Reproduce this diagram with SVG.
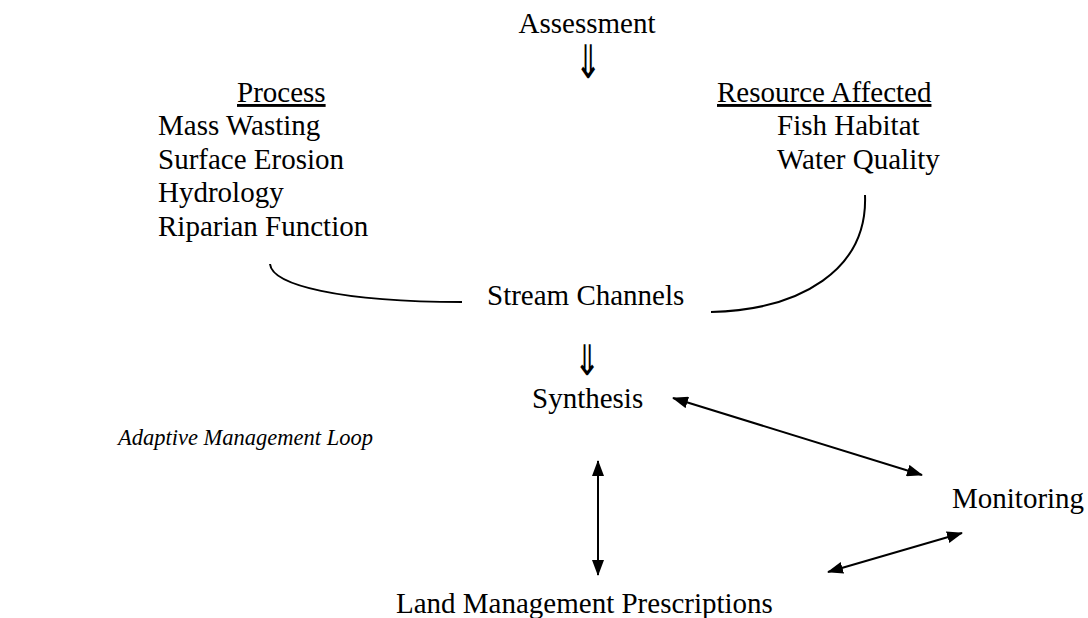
<svg xmlns="http://www.w3.org/2000/svg" width="1088" height="618" viewBox="0 0 1088 618">
<defs>
<style>
text{font-family:"Liberation Serif","Times New Roman",serif;font-size:29px;fill:#000}
.arr{font-family:"DejaVu Sans",sans-serif}
.it{font-style:italic;font-size:22.5px}
.u{text-decoration:underline}
.c{fill:none;stroke:#000;stroke-width:2}
.l{stroke:#000;stroke-width:2;fill:none}
</style>
<marker id="ah" viewBox="0 0 16 12" refX="15" refY="6" markerWidth="16" markerHeight="12" orient="auto-start-reverse" markerUnits="userSpaceOnUse"><path d="M0,0 L16,6 L0,12 z" fill="#000"/></marker>
</defs>
<rect width="1088" height="618" fill="#fff"/>
<g id="assessment"><text x="587" y="33" text-anchor="middle">Assessment</text><text class="arr" transform="translate(588,78) scale(1.1,1.6)" x="0" y="0" text-anchor="middle" font-size="30">⇓</text></g>
<g id="process"><text class="u" x="237" y="102">Process</text><text x="158" y="135">Mass Wasting</text><text x="158" y="169">Surface Erosion</text><text x="158" y="202">Hydrology</text><text x="158" y="236">Riparian Function</text></g>
<g id="resource"><text class="u" x="717" y="102">Resource Affected</text><text x="777" y="135">Fish Habitat</text><text x="777" y="169">Water Quality</text></g>
<g id="stream"><text x="487" y="305">Stream Channels</text><text class="arr" transform="translate(587,375) scale(1.1,1.45)" x="0" y="0" text-anchor="middle" font-size="24">⇓</text></g>
<g id="synthesis"><text x="532" y="408">Synthesis</text></g>
<g id="loop"><text class="it" x="118" y="445">Adaptive Management Loop</text></g>
<g id="monitoring"><text x="952" y="508">Monitoring</text></g>
<g id="prescriptions"><text x="396" y="613">Land Management Prescriptions</text></g>
<g id="connectors">
<path class="c" d="M270,264 C272,285 340,302 462,302"/>
<path class="c" d="M711,312 C800,310 868,270 865,195"/>
<line class="l" x1="673" y1="398" x2="922" y2="475" marker-start="url(#ah)" marker-end="url(#ah)"/>
<line class="l" x1="598" y1="461" x2="598" y2="575" marker-start="url(#ah)" marker-end="url(#ah)"/>
<line class="l" x1="828" y1="572" x2="962" y2="533" marker-start="url(#ah)" marker-end="url(#ah)"/>
</g>
</svg>
